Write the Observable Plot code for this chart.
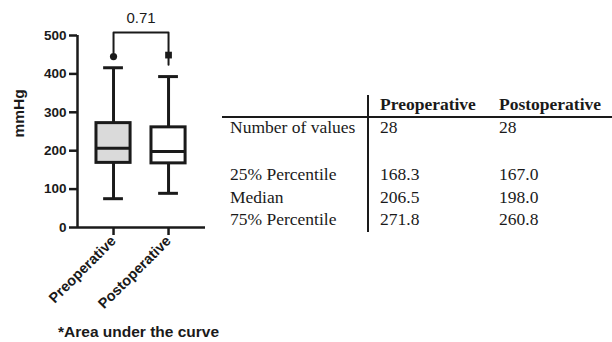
<!DOCTYPE html>
<html>
<head>
<meta charset="utf-8">
<script src="https://cdn.jsdelivr.net/npm/d3@7"></script>
<script src="https://cdn.jsdelivr.net/npm/@observablehq/plot@0.6"></script>
<style>
  body { margin: 0; background: #fff; }
  #wrap { position: relative; width: 612px; height: 342px; overflow: hidden; background: #fff; }
  #chart { position: absolute; left: 0; top: 0; }
  #caption { position: absolute; left: 58px; top: 322px; font: bold 15.5px "Liberation Sans", Arial, sans-serif; color: #1a1a1a; white-space: nowrap; line-height: 20px; }
  .cell { position: absolute; font: 17.5px "Liberation Serif", "Times New Roman", serif; color: #1a1a1a; white-space: nowrap; line-height: 22px; }
  .hdr { font-weight: bold; }
  .line { position: absolute; background: #1a1a1a; }
</style>
</head>
<body>
<div id="wrap">
  <div id="chart"></div>
  <div id="caption">*Area under the curve</div>
  <div id="table"></div>
</div>
<script>
const categories = ["Preoperative", "Postoperative"];
const q1 = [168.3, 167.0];
const median = [206.5, 198.0];
const q3 = [271.8, 260.8];
const whiskerLow = [75, 89];
const whiskerHigh = [416, 393];
const outliersPre = [445];
const outliersPost = [449];
const nValues = [28, 28];
const pValue = "0.71";
const yTicks = [0, 100, 200, 300, 400, 500];
const rowLabels = ["Number of values", "25% Percentile", "Median", "75% Percentile"];

const ink = "#1a1a1a";
const boxes = categories.map((c, i) => ({
  i, cat: c, q1: q1[i], med: median[i], q3: q3[i], lo: whiskerLow[i], hi: whiskerHigh[i],
  fill: i === 0 ? "#dadada" : "#ffffff"
}));
const outlierPts = [
  ...outliersPre.map(v => ({i: 0, v})),
  ...outliersPost.map(v => ({i: 1, v}))
];
const xmin = -0.655, xmax = 1.672;
const hw = 0.31, cw = 0.18;
const bracketTop = 508;
const bracket = [
  {x: 0, y: 455}, {x: 0, y: bracketTop}, {x: 1, y: bracketTop}, {x: 1, y: 424}
];

const chart = Plot.plot({
  width: 215,
  height: 320,
  marginLeft: 77,
  marginRight: 10,
  marginTop: 35,
  marginBottom: 93,
  style: {fontFamily: '"Liberation Sans", Arial, sans-serif', color: ink, background: "transparent", overflow: "visible"},
  x: {type: "linear", domain: [xmin, xmax], axis: null},
  y: {domain: [0, 500], axis: null},
  color: {type: "identity"},
  marks: [
    Plot.ruleX(boxes, {x: "i", y1: "q3", y2: "hi", stroke: ink, strokeWidth: 3}),
    Plot.ruleX(boxes, {x: "i", y1: "lo", y2: "q1", stroke: ink, strokeWidth: 3}),
    Plot.ruleY(boxes, {y: "hi", x1: d => d.i - cw, x2: d => d.i + cw, stroke: ink, strokeWidth: 3}),
    Plot.ruleY(boxes, {y: "lo", x1: d => d.i - cw, x2: d => d.i + cw, stroke: ink, strokeWidth: 3}),
    Plot.rect(boxes, {x1: d => d.i - hw, x2: d => d.i + hw, y1: "q1", y2: "q3", fill: "fill", stroke: ink, strokeWidth: 3}),
    Plot.ruleY(boxes, {y: "med", x1: d => d.i - hw, x2: d => d.i + hw, stroke: ink, strokeWidth: 3}),
    Plot.line(bracket, {x: "x", y: "y", stroke: ink, strokeWidth: 2}),
    Plot.dot(outlierPts.filter(d => d.i === 0), {x: "i", y: "v", r: 3.6, fill: ink, symbol: "circle"}),
    Plot.dot(outlierPts.filter(d => d.i === 1), {x: "i", y: "v", r: 3.8, fill: ink, symbol: "square"}),
    Plot.text([pValue], {x: 0.5, y: 544, text: d => d, fontSize: 15, fill: ink}),
    Plot.ruleX([xmin], {y1: 0, y2: 500, stroke: ink, strokeWidth: 2.5}),
    Plot.ruleY([0], {x1: xmin, x2: xmax, stroke: ink, strokeWidth: 2.5}),
    Plot.axisY({ticks: yTicks, tickSize: 8, tickPadding: 3, fontSize: 13.5, fontWeight: "bold", strokeWidth: 2.5, label: null, stroke: ink, fill: ink}),
    Plot.axisX({ticks: [0, 1], tickFormat: i => categories[i], tickRotate: -45, tickSize: 8, tickPadding: 3, fontSize: 14.5, fontWeight: "bold", strokeWidth: 2.5, label: null, stroke: ink, fill: ink}),
    Plot.text(["mmHg"], {frameAnchor: "left", text: d => d, rotate: -90, dx: -58, dy: 6, fontSize: 15.5, fontWeight: "bold", fill: ink})
  ]
});
document.getElementById("chart").appendChild(chart);

// Summary table
const table = d3.select("#table");
const baseOff = 16.9;
const colX = [230, 380, 499];
const headerBase = 110;
const rowBases = [133, 180, 203, 225];
const values = [nValues.map(String), q1.map(v => v.toFixed(1)), median.map(v => v.toFixed(1)), q3.map(v => v.toFixed(1))];
categories.forEach((c, j) => {
  table.append("div").attr("class", "cell hdr").style("left", colX[j + 1] + "px").style("top", (headerBase - baseOff) + "px").text(c);
});
rowLabels.forEach((lab, r) => {
  table.append("div").attr("class", "cell").style("left", colX[0] + "px").style("top", (rowBases[r] - baseOff) + "px").text(lab);
  values[r].forEach((v, j) => {
    table.append("div").attr("class", "cell").style("left", colX[j + 1] + "px").style("top", (rowBases[r] - baseOff) + "px").text(v);
  });
});
table.append("div").attr("class", "line").style("left", "222px").style("top", "116px").style("width", "390px").style("height", "2px");
table.append("div").attr("class", "line").style("left", "367px").style("top", "95px").style("width", "2px").style("height", "137px");
</script>
</body>
</html>
